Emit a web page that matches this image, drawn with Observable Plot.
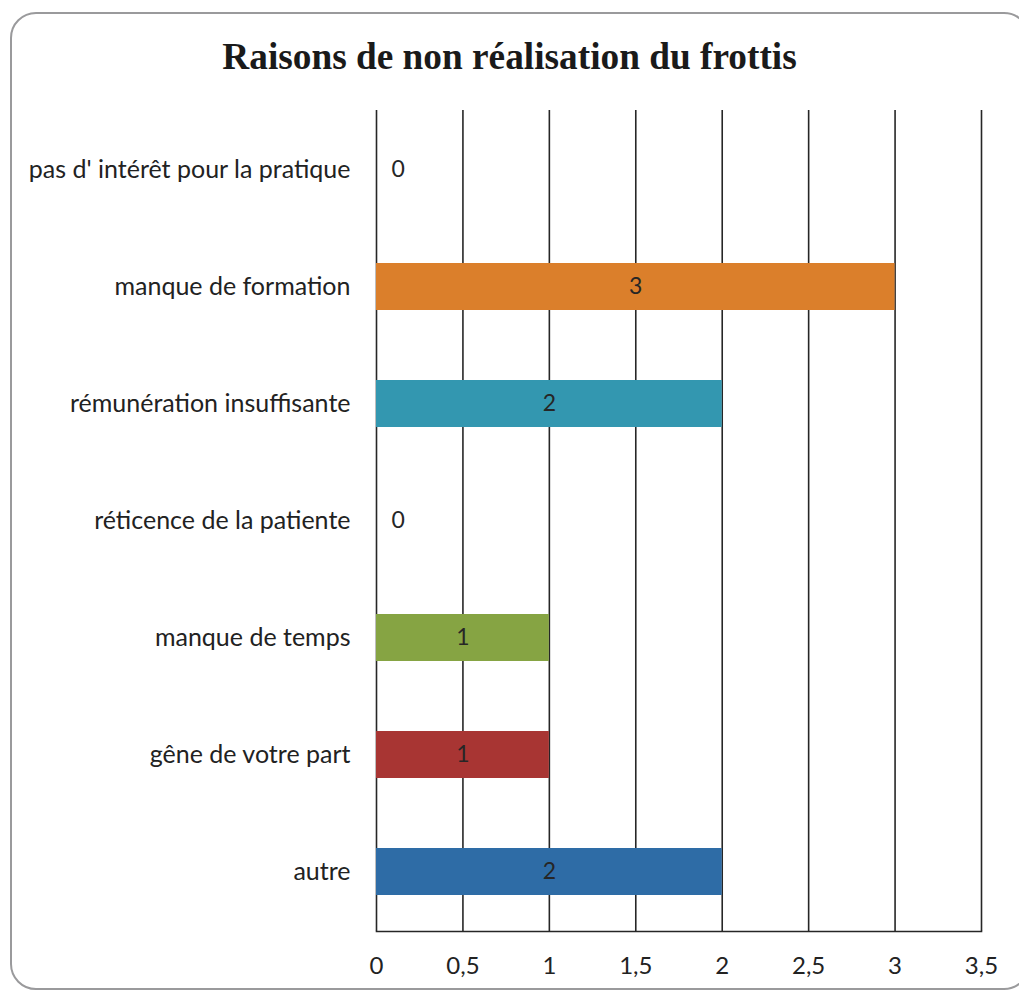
<!DOCTYPE html>
<html><head><meta charset="utf-8">
<script src="https://cdn.jsdelivr.net/npm/d3@7"></script>
<script src="https://cdn.jsdelivr.net/npm/@observablehq/plot@0.6"></script>
<style>
body{margin:0;background:#fff;width:1019px;height:990px;overflow:hidden;position:relative;}
#frame{position:absolute;left:10px;top:12px;width:1020px;height:978px;border:2px solid #9a9a9c;border-radius:26px;box-sizing:border-box;}
#title{position:absolute;left:0;top:0;width:1019px;height:95px;text-align:center;font-family:"Liberation Serif","Times New Roman",serif;font-weight:bold;font-size:37.3px;line-height:114px;color:#1a1a1a;}
#chart{position:absolute;left:0;top:95px;}
#chart svg text{font-family:Lato, sans-serif;}
</style></head>
<body>
<div id="frame"></div>
<div id="title">Raisons de non réalisation du frottis</div>
<div id="chart"></div>
<script>
const categories = ["pas d' intérêt pour la pratique","manque de formation","rémunération insuffisante","réticence de la patiente","manque de temps","gêne de votre part","autre"];
const values = [0,3,2,0,1,1,2];
const colors = ["#4472C4","#DB7F2B","#3397B0","#8064A2","#86A443","#A83533","#2E6CA6"];
const xTicks = [0,0.5,1,1.5,2,2.5,3,3.5];
const xTickLabels = ["0","0,5","1","1,5","2","2,5","3","3,5"];

const data = categories.map((c,i)=>({cat:c, value:values[i], color:colors[i]}));
const fmt = d => xTickLabels[xTicks.indexOf(d)];

const chart = Plot.plot({
  width:1019, height:895,
  marginLeft:376, marginRight:38, marginTop:15, marginBottom:59,
  style:{fontFamily:"Lato, sans-serif", fontSize:"25px", color:"#262626", background:"transparent"},
  x:{domain:[0,3.5], ticks:xTicks, tickFormat:fmt, label:null},
  y:{domain:categories, paddingInner:0.6, paddingOuter:0.3, label:null},
  marks:[
    Plot.gridX(xTicks,{stroke:"#262626", strokeOpacity:1, strokeWidth:1.6}),
    Plot.frame({anchor:"bottom", stroke:"#262626", strokeWidth:1.6}),
    Plot.barX(data,{x:"value", y:"cat", fill:d=>d.color}),
    Plot.axisX({ticks:xTicks, tickFormat:fmt, tickSize:0, tickPadding:25, fontSize:24, label:null, fill:"#222"}),
    Plot.axisY({tickSize:0, tickPadding:26, fontSize:25, label:null, fill:"#222"}),
    Plot.text(data.filter(d=>d.value>0),{x:d=>d.value/2, y:"cat", text:d=>String(d.value), fontSize:23, fill:"#262626"}),
    Plot.text(data.filter(d=>d.value===0),{x:0, y:"cat", text:d=>String(d.value), fontSize:23, fill:"#262626", textAnchor:"start", dx:15})
  ]
});
document.getElementById("chart").appendChild(chart);
</script>
</body></html>
